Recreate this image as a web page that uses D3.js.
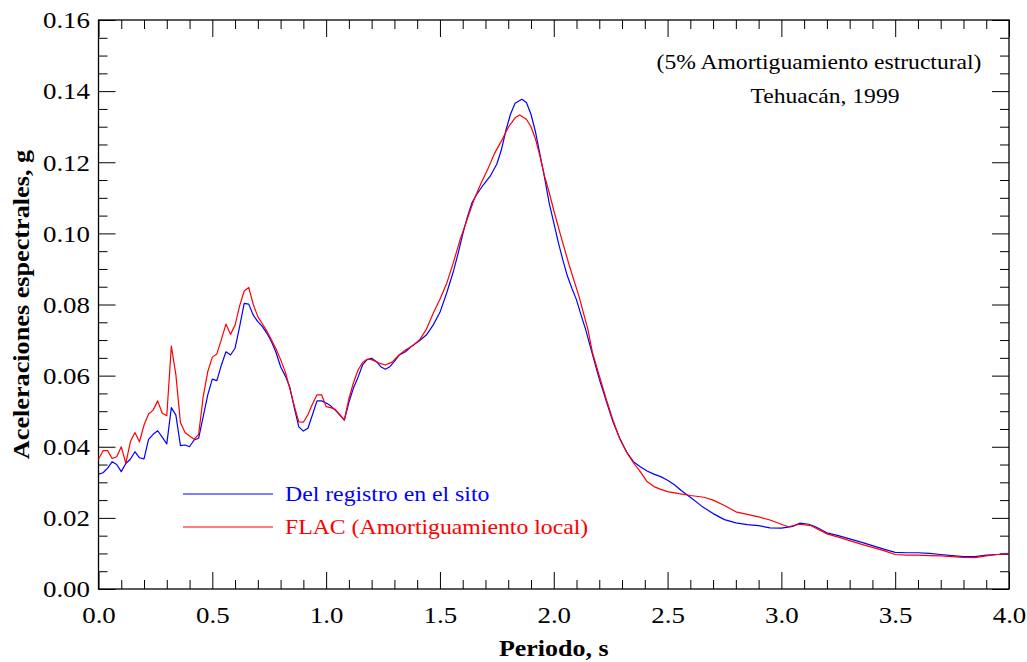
<!DOCTYPE html>
<html>
<head>
<meta charset="utf-8">
<script src="https://cdn.jsdelivr.net/npm/d3@7/dist/d3.min.js"></script>
<style>
  html, body { margin: 0; padding: 0; background: #fff; }
  svg { display: block; font-family: "Liberation Serif", "Times New Roman", serif; }
  .axis path { display: none; }
  .axis line { stroke: #000; stroke-width: 1; }
  .axis text { font-size: 23px; fill: #000; font-family: "Liberation Serif", "Times New Roman", serif; }
</style>
</head>
<body>
<script>
// Spectral acceleration (g) vs. period (s), Tehuacán 1999 event.
const periodRecord = [
  0.00,0.02,0.04,0.06,0.08,0.10,0.12,0.14,0.16,0.18,0.20,0.22,0.24,0.26,0.28,0.30,0.32,0.34,0.36,0.38,
  0.40,0.42,0.44,0.46,0.48,0.50,0.52,0.54,0.56,0.58,0.60,0.62,0.64,0.66,0.68,0.70,0.72,0.74,0.76,0.78,
  0.80,0.82,0.84,0.86,0.88,0.90,0.92,0.94,0.96,0.98,1.00,1.02,1.04,1.06,1.08,1.10,1.12,1.14,1.16,1.18,
  1.20,1.22,1.24,1.26,1.28,1.30,1.32,1.35,1.38,1.41,1.44,1.47,1.50,1.53,1.56,1.58,1.60,1.62,1.64,1.66,
  1.69,1.72,1.75,1.77,1.79,1.81,1.83,1.86,1.88,1.90,1.92,1.94,1.96,1.98,2.00,2.02,2.04,2.06,2.08,2.10,
  2.12,2.14,2.17,2.20,2.23,2.26,2.29,2.32,2.35,2.38,2.41,2.44,2.47,2.50,2.53,2.56,2.60,2.65,2.70,2.75,
  2.80,2.85,2.90,2.95,3.00,3.05,3.08,3.12,3.15,3.20,3.25,3.30,3.35,3.40,3.45,3.50,3.55,3.60,3.65,3.70,
  3.75,3.80,3.85,3.90,3.95,4.00
];
const accelRecord = [
  0.0323,0.0327,0.0340,0.0358,0.0350,0.0330,0.0353,0.0365,0.0386,0.0369,0.0366,0.0421,0.0435,0.0445,0.0427,0.0408,0.0510,0.0489,0.0403,0.0405,
  0.0400,0.0419,0.0424,0.0485,0.0546,0.0590,0.0586,0.0630,0.0667,0.0658,0.0677,0.0738,0.0803,0.0801,0.0770,0.0752,0.0738,0.0719,0.0695,0.0665,
  0.0625,0.0600,0.0569,0.0510,0.0456,0.0444,0.0452,0.0490,0.0529,0.0529,0.0523,0.0515,0.0503,0.0490,0.0475,0.0525,0.0565,0.0595,0.0630,0.0645,
  0.0649,0.0640,0.0625,0.0618,0.0625,0.0640,0.0657,0.0668,0.0685,0.0698,0.0714,0.0742,0.0778,0.0833,0.0895,0.0944,0.0997,0.1045,0.1085,0.1108,
  0.1136,0.1160,0.1195,0.1235,0.1290,0.1335,0.1366,0.1377,0.1368,0.1335,0.1285,0.1220,0.1155,0.1085,0.1030,0.0975,0.0925,0.0880,0.0845,0.0813,
  0.0770,0.0730,0.0660,0.0590,0.0530,0.0470,0.0424,0.0385,0.0358,0.0344,0.0332,0.0323,0.0316,0.0306,0.0293,0.0277,0.0258,0.0233,0.0212,0.0195,
  0.0186,0.0181,0.0178,0.0172,0.0171,0.0176,0.0185,0.0182,0.0175,0.0158,0.0150,0.0141,0.0132,0.0122,0.0112,0.0103,0.0102,0.0102,0.0100,0.0097,
  0.0094,0.0091,0.0091,0.0095,0.0097,0.0098
];

const periodFlac = [
  0.00,0.02,0.04,0.06,0.08,0.10,0.12,0.14,0.16,0.18,0.20,0.22,0.24,0.26,0.28,0.30,0.32,0.34,0.36,0.38,
  0.40,0.42,0.44,0.46,0.48,0.50,0.52,0.54,0.56,0.58,0.60,0.62,0.64,0.66,0.68,0.70,0.72,0.74,0.76,0.78,
  0.80,0.82,0.84,0.86,0.88,0.90,0.92,0.94,0.96,0.98,1.00,1.02,1.04,1.06,1.08,1.10,1.12,1.14,1.16,1.18,
  1.20,1.23,1.26,1.29,1.32,1.35,1.38,1.41,1.44,1.47,1.50,1.53,1.56,1.59,1.62,1.65,1.68,1.71,1.74,1.77,
  1.80,1.83,1.85,1.88,1.90,1.92,1.94,1.96,1.98,2.00,2.03,2.07,2.11,2.15,2.17,2.20,2.23,2.26,2.29,2.32,
  2.35,2.38,2.41,2.44,2.47,2.50,2.55,2.60,2.66,2.70,2.75,2.80,2.85,2.90,2.95,3.00,3.03,3.08,3.13,3.18,
  3.20,3.25,3.30,3.35,3.40,3.45,3.50,3.55,3.60,3.65,3.70,3.75,3.80,3.85,3.90,3.95,4.00
];
const accelFlac = [
  0.0365,0.0389,0.0389,0.0367,0.0372,0.0400,0.0353,0.0414,0.0440,0.0414,0.0461,0.0492,0.0503,0.0529,0.0494,0.0487,0.0683,0.0602,0.0468,0.0440,
  0.0430,0.0421,0.0435,0.0541,0.0611,0.0652,0.0661,0.0702,0.0745,0.0716,0.0742,0.0796,0.0838,0.0848,0.0800,0.0766,0.0745,0.0725,0.0700,0.0675,
  0.0645,0.0612,0.0565,0.0515,0.0470,0.0469,0.0490,0.0520,0.0546,0.0546,0.0513,0.0510,0.0505,0.0490,0.0475,0.0535,0.0580,0.0615,0.0637,0.0646,
  0.0645,0.0636,0.0630,0.0638,0.0658,0.0673,0.0684,0.0700,0.0730,0.0775,0.0815,0.0860,0.0920,0.0985,0.1040,0.1095,0.1140,0.1180,0.1225,0.1260,
  0.1298,0.1325,0.1333,0.1321,0.1300,0.1265,0.1215,0.1160,0.1115,0.1065,0.0995,0.0906,0.0825,0.0730,0.0665,0.0600,0.0535,0.0475,0.0422,0.0385,
  0.0355,0.0330,0.0302,0.0288,0.0280,0.0274,0.0268,0.0263,0.0258,0.0250,0.0235,0.0217,0.0210,0.0203,0.0194,0.0182,0.0175,0.0182,0.0178,0.0162,
  0.0155,0.0146,0.0136,0.0126,0.0117,0.0108,0.0097,0.0095,0.0095,0.0094,0.0093,0.0091,0.0089,0.0088,0.0093,0.0097,0.0100
];

const xMajorTicks = [0.0,0.5,1.0,1.5,2.0,2.5,3.0,3.5,4.0];
const yMajorTicks = [0.00,0.02,0.04,0.06,0.08,0.10,0.12,0.14,0.16];
const xMinorStep = 0.1;
const yMinorStep = 0.005;

const seriesNames = ["Del registro en el sito", "FLAC (Amortiguamiento local)"];
const seriesColors = ["#0000ff", "#ff0000"];
const noteLines = ["(5% Amortiguamiento estructural)", "Tehuacán, 1999"];
const xTitle = "Periodo, s";
const yTitle = "Aceleraciones espectrales, g";

const W = 1027, H = 662;
const margin = { left: 98.5, right: 18, top: 20, bottom: 73 };
const innerW = W - margin.left - margin.right;
const innerH = H - margin.top - margin.bottom;

// The serif lettering is set slightly wide
const tickStretch = 1.17;

const svg = d3.select("body").append("svg").attr("width", W).attr("height", H);
const g = svg.append("g").attr("transform", `translate(${margin.left},${margin.top})`);

const x = d3.scaleLinear().domain([0, 4]).range([0, innerW]);
const y = d3.scaleLinear().domain([0, 0.16]).range([innerH, 0]);

const xMinor = d3.range(0, 40 + 1).map(i => +(i * xMinorStep).toFixed(2)).filter(v => Math.abs(v * 2 - Math.round(v * 2)) > 1e-6);
const yMinor = d3.range(0, 32 + 1).map(i => +(i * yMinorStep).toFixed(3)).filter(v => Math.abs(v / 0.02 - Math.round(v / 0.02)) > 1e-6);

const majorLen = 17, minorLen = 9;

// Bottom axis with labels
const xAxisG = g.append("g").attr("class", "axis").attr("transform", `translate(0,${innerH})`)
  .call(d3.axisBottom(x).tickValues(xMajorTicks).tickSizeInner(-majorLen).tickSizeOuter(0).tickPadding(18).tickFormat(d3.format(".1f")));
xAxisG.selectAll("text").attr("transform", `scale(${tickStretch},1)`);
g.append("g").attr("class", "axis").attr("transform", `translate(0,${innerH})`)
  .call(d3.axisBottom(x).tickValues(xMinor).tickSizeInner(-minorLen).tickSizeOuter(0).tickFormat(""));
// Top axis (ticks only)
g.append("g").attr("class", "axis")
  .call(d3.axisTop(x).tickValues(xMajorTicks).tickSizeInner(-majorLen).tickSizeOuter(0).tickFormat(""));
g.append("g").attr("class", "axis")
  .call(d3.axisTop(x).tickValues(xMinor).tickSizeInner(-minorLen).tickSizeOuter(0).tickFormat(""));
// Left axis with labels
const yAxisG = g.append("g").attr("class", "axis")
  .call(d3.axisLeft(y).tickValues(yMajorTicks).tickSizeInner(-majorLen).tickSizeOuter(0).tickFormat(d3.format(".2f")));
yAxisG.selectAll("text").attr("x", -8.5 / tickStretch).attr("dy", "0.34em")
  .attr("transform", `scale(${tickStretch},1)`);
g.append("g").attr("class", "axis")
  .call(d3.axisLeft(y).tickValues(yMinor).tickSizeInner(-minorLen).tickSizeOuter(0).tickFormat(""));
// Right axis (ticks only)
g.append("g").attr("class", "axis").attr("transform", `translate(${innerW},0)`)
  .call(d3.axisRight(y).tickValues(yMajorTicks).tickSizeInner(-majorLen).tickSizeOuter(0).tickFormat(""));
g.append("g").attr("class", "axis").attr("transform", `translate(${innerW},0)`)
  .call(d3.axisRight(y).tickValues(yMinor).tickSizeInner(-minorLen).tickSizeOuter(0).tickFormat(""));

// Frame
g.append("rect").attr("x", 0).attr("y", 0).attr("width", innerW).attr("height", innerH)
  .attr("fill", "none").attr("stroke", "#000").attr("stroke-width", 1.3);

// Curves
const line = d3.line().x(d => x(d[0])).y(d => y(d[1]));
const recordPts = periodRecord.map((p, i) => [p, accelRecord[i]]);
const flacPts = periodFlac.map((p, i) => [p, accelFlac[i]]);

g.append("path").datum(recordPts).attr("d", line)
  .attr("fill", "none").attr("stroke", seriesColors[0]).attr("stroke-width", 1.2).attr("stroke-linejoin", "round");
g.append("path").datum(flacPts).attr("d", line)
  .attr("fill", "none").attr("stroke", seriesColors[1]).attr("stroke-width", 1.2).attr("stroke-linejoin", "round");

// Helper: place a text whose glyphs are widened by sx
function wideText(parent, px, py, sx, str, opts) {
  const t = parent.append("text")
    .attr("transform", `translate(${px},${py})${opts.rotate ? ` rotate(${opts.rotate})` : ""} scale(${sx},1)`)
    .attr("text-anchor", opts.anchor || "start")
    .attr("font-size", opts.size)
    .attr("fill", opts.fill || "#000")
    .text(str);
  if (opts.bold) t.attr("font-weight", "bold");
  if (opts.dy) t.attr("dy", opts.dy);
  return t;
}

// Legend
const legend = svg.append("g").attr("transform", "translate(183,494)");
seriesNames.forEach((name, i) => {
  const row = legend.append("g").attr("transform", `translate(0,${i * 33})`);
  row.append("line").attr("x1", 0).attr("x2", 90).attr("y1", 0).attr("y2", 0)
    .attr("stroke", seriesColors[i]).attr("stroke-width", 1.2);
  wideText(row, 102, 0, 1.08, name, { size: 22, fill: seriesColors[i], dy: "0.34em" });
});

// Note in upper right
wideText(svg, 819, 69, 1.18, noteLines[0], { size: 20, anchor: "middle" });
wideText(svg, 825, 103, 1.18, noteLines[1], { size: 20, anchor: "middle" });

// Axis titles
wideText(svg, margin.left + innerW / 2, 656, 1.13, xTitle, { size: 23, bold: true, anchor: "middle" });
wideText(svg, 29, margin.top + innerH / 2, 1.14, yTitle, { size: 23, bold: true, anchor: "middle", rotate: -90 });
</script>
</body>
</html>
